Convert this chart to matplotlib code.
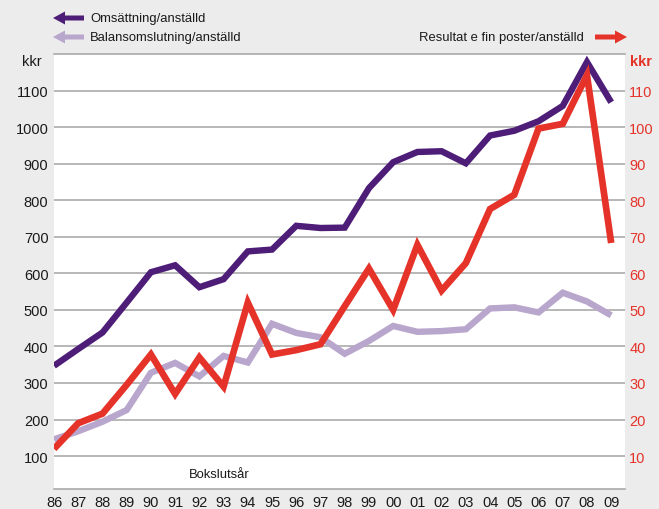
import matplotlib
matplotlib.use("Agg")
import matplotlib.pyplot as plt
from matplotlib.patches import Polygon

plt.rcParams['font.family'] = ['Liberation Sans', 'DejaVu Sans']

# ---- data ----
years = list(range(1986, 2010))
year_labels = ['86', '87', '88', '89', '90', '91', '92', '93', '94', '95', '96', '97',
               '98', '99', '00', '01', '02', '03', '04', '05', '06', '07', '08', '09']
omsattning = [347, 393, 438, 520, 603, 622, 562, 584, 660, 665, 730, 724,
              725, 833, 904, 932, 934, 901, 977, 990, 1016, 1058, 1178, 1068]
balans = [146, 168, 194, 226, 328, 355, 318, 374, 356, 462, 437, 425,
          380, 415, 456, 440, 442, 447, 504, 507, 493, 547, 523, 485]
resultat = [12.0, 19.0, 21.6, 29.5, 37.8, 27.0, 37.0, 29.0, 52.0, 37.8, 39.0, 40.6,
            51.0, 61.3, 50.0, 67.8, 55.3, 62.8, 77.6, 81.5, 99.6, 100.9, 114.2, 68.3]
left_ticks = [100, 200, 300, 400, 500, 600, 700, 800, 900, 1000, 1100]
right_ticks = [10, 20, 30, 40, 50, 60, 70, 80, 90, 100, 110]

PURPLE = '#4d1d77'
LAVENDER = '#b9a6cc'
RED = '#e5332a'
BG = '#ebeceb'
GRID = '#a3a3a3'

W, H = 659, 510
fig = plt.figure(figsize=(W / 100, H / 100), dpi=100, facecolor=BG)
ax = fig.add_axes([54 / W, 1 - 490 / H, (625 - 54) / W, (490 - 55) / H])
ax.set_facecolor('white')

x = [y - 1986 for y in years]
ax.set_xlim(0, 23.57)
ax.set_ylim(10, 1200)

ax.set_yticks(left_ticks)
ax.set_yticklabels([str(v) for v in left_ticks])
ax.grid(axis='y', color=GRID, lw=1.1, zorder=0)
ax.set_axisbelow(True)
ax.set_xticks(x)
ax.set_xticklabels(year_labels)
ax.tick_params(axis='both', length=0, labelsize=10.5, colors='#1a1a1a')
ax.tick_params(axis='y', pad=4)
ax.tick_params(axis='x', pad=4)
for s in ['left', 'right']:
    ax.spines[s].set_visible(False)
for s in ['top', 'bottom']:
    ax.spines[s].set_color(GRID)
    ax.spines[s].set_linewidth(1.1)

ax.plot(x, balans, color=LAVENDER, lw=4.6, solid_joinstyle='miter', solid_capstyle='butt', zorder=2)
ax.plot(x, omsattning, color=PURPLE, lw=4.6, solid_joinstyle='miter', solid_capstyle='butt', zorder=3)

ax2 = ax.twinx()
ax2.set_ylim(1, 120)
ax2.set_yticks(right_ticks)
ax2.set_yticklabels([str(v) for v in right_ticks])
ax2.tick_params(axis='y', length=0, labelsize=10.5, colors=RED, pad=3)
for s in ax2.spines.values():
    s.set_visible(False)
ax2.plot(x, resultat, color=RED, lw=4.8, solid_joinstyle='miter', solid_capstyle='butt', zorder=4)

ax.text(0.236, 0.034, 'Bokslutsår', transform=ax.transAxes, fontsize=9.4,
        ha='left', va='center', color='#1a1a1a')

# unit labels
fig.text(42 / W, 1 - 62 / H, 'kkr', ha='right', va='center', fontsize=10.5, color='#1a1a1a')
fig.text(630 / W, 1 - 62 / H, 'kkr', ha='left', va='center', fontsize=10.5, color=RED,
         fontweight='bold')

# legend texts
fig.text(90 / W, 1 - 19 / H, 'Omsättning/anställd', ha='left', va='center', fontsize=9.4, color='#1a1a1a')
fig.text(90 / W, 1 - 38 / H, 'Balansomslutning/anställd', ha='left', va='center', fontsize=9.4, color='#1a1a1a')
fig.text(584 / W, 1 - 38 / H, 'Resultat e fin poster/anställd', ha='right', va='center', fontsize=9.4, color='#1a1a1a')


def arrow(tip_x, tail_x, y_img, color):
    y = H - y_img
    d = 1 if tail_x > tip_x else -1
    hl, hw, sw = 12, 6.5, 2.5
    pts = [(tip_x, y), (tip_x + d * hl, y + hw), (tip_x + d * hl, y + sw), (tail_x, y + sw),
           (tail_x, y - sw), (tip_x + d * hl, y - sw), (tip_x + d * hl, y - hw)]
    fig.add_artist(Polygon(pts, closed=True, facecolor=color, edgecolor='none', transform=None))


arrow(53, 84, 19, PURPLE)
arrow(53, 84, 38, LAVENDER)
arrow(627, 595, 38, RED)

fig.savefig('out.png', dpi=100, facecolor=BG)
